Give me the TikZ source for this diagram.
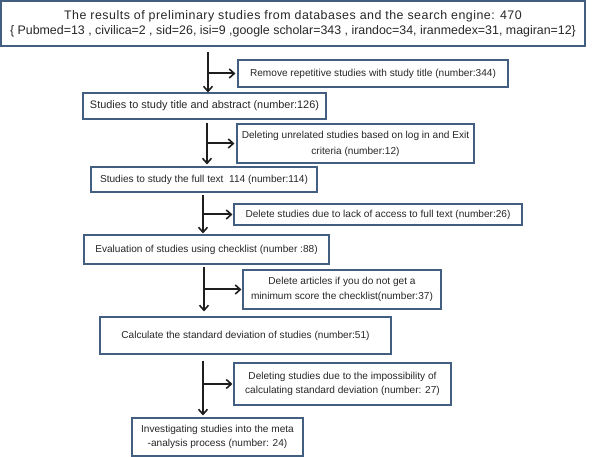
\documentclass[tikz,border=0pt]{standalone}
\usepackage{fontspec}
\setmainfont{Liberation Sans}
\usetikzlibrary{arrows.meta}
\definecolor{boxline}{RGB}{66,94,128}
\definecolor{arrowline}{RGB}{30,30,30}
\tikzset{
  stagebox/.style={draw=boxline, line width=1.1pt, align=center, inner sep=2pt,
    font=\fontsize{10.1}{14.5}\selectfont, text=black!85},
  flow/.style={draw=arrowline, line width=2pt, -{Straight Barb[length=5pt,width=9pt,line width=1.6pt]}}
}
\begin{document}
\begin{tikzpicture}[x=1pt,y=-1pt]
\useasboundingbox (0,0) rectangle (606,457);

% main stages
\node[stagebox, minimum width=584, minimum height=45, font=\fontsize{12.4}{15}\selectfont] (b1) at (293,23.5)
  {{\addfontfeatures{LetterSpace=4}The results of preliminary studies from databases and the search engine: 470}\\
   \{ Pubmed=13 , civilica=2 , sid=26, isi=9 ,google scholar=343 , irandoc=34, iranmedex=31, magiran=12\}};
\node[stagebox, minimum width=243, minimum height=26, font=\fontsize{10.9}{14}\selectfont] (b3) at (204.5,106)
  {Studies to study title and abstract (number:126)};
\node[stagebox, minimum width=226, minimum height=25] (b5) at (204,179.5)
  {Studies to study the full text\ \ 114 (number:114)};
\node[stagebox, minimum width=245, minimum height=29] (b7) at (206.5,249.5)
  {Evaluation of studies using checklist (number :88)};
\node[stagebox, minimum width=291, minimum height=37] (b9) at (245.5,335.5)
  {Calculate the standard deviation of studies (number:51)};
\node[stagebox, minimum width=171, minimum height=38] (b11) at (217.5,437)
  {Investigating studies into the meta\\-analysis process (number: 24)};

% excluded
\node[stagebox, minimum width=270, minimum height=27] (b2) at (373,73.5)
  {Remove repetitive studies with study title (number:344)};
\node[stagebox, minimum width=237, minimum height=39, font=\fontsize{10.1}{16}\selectfont] (b4) at (355.5,143.5)
  {Deleting unrelated studies based on log in and Exit\\criteria (number:12)};
\node[stagebox, minimum width=288, minimum height=21] (b6) at (378,214.5)
  {Delete studies due to lack of access to full text (number:26)};
\node[stagebox, minimum width=198, minimum height=39] (b8) at (342,289.5)
  {Delete articles if you do not get a\\minimum score the checklist(number:37)};
\node[stagebox, minimum width=217, minimum height=42] (b10) at (342.5,384)
  {Deleting studies due to the impossibility of\\calculating standard deviation (number: 27)};

% arrow columns
\coordinate (a1) at (208,0);
\coordinate (a2) at (207,0);
\coordinate (a3) at (203,0);
\coordinate (a4) at (204,0);
\coordinate (a5) at (203,0);

% down arrows
\draw[flow] ([yshift=-5pt]b1.south -| a1) -- (b3.north -| a1);
\draw[flow] ([yshift=-3pt]b3.south -| a2) -- ([yshift=2pt]b5.north -| a2);
\draw[flow] ([yshift=-2pt]b5.south -| a3) -- ([yshift=1pt]b7.north -| a3);
\draw[flow] ([yshift=-2pt]b7.south -| a4) -- ([yshift=5pt]b9.north -| a4);
\draw[flow] ([yshift=-6pt]b9.south -| a5) -- ([yshift=2pt]b11.north -| a5);

% side arrows
\draw[flow] (b2.west -| a1) -- ([xshift=-2pt]b2.west);
\draw[flow] (b4.west -| a2) -- ([xshift=-2pt]b4.west);
\draw[flow] (b6.west -| a3) -- ([xshift=-1pt]b6.west);
\draw[flow] (b8.west -| a4) -- ([xshift=-1pt]b8.west);
\draw[flow] (b10.west -| a5) -- ([xshift=-1pt]b10.west);

\end{tikzpicture}
\end{document}
